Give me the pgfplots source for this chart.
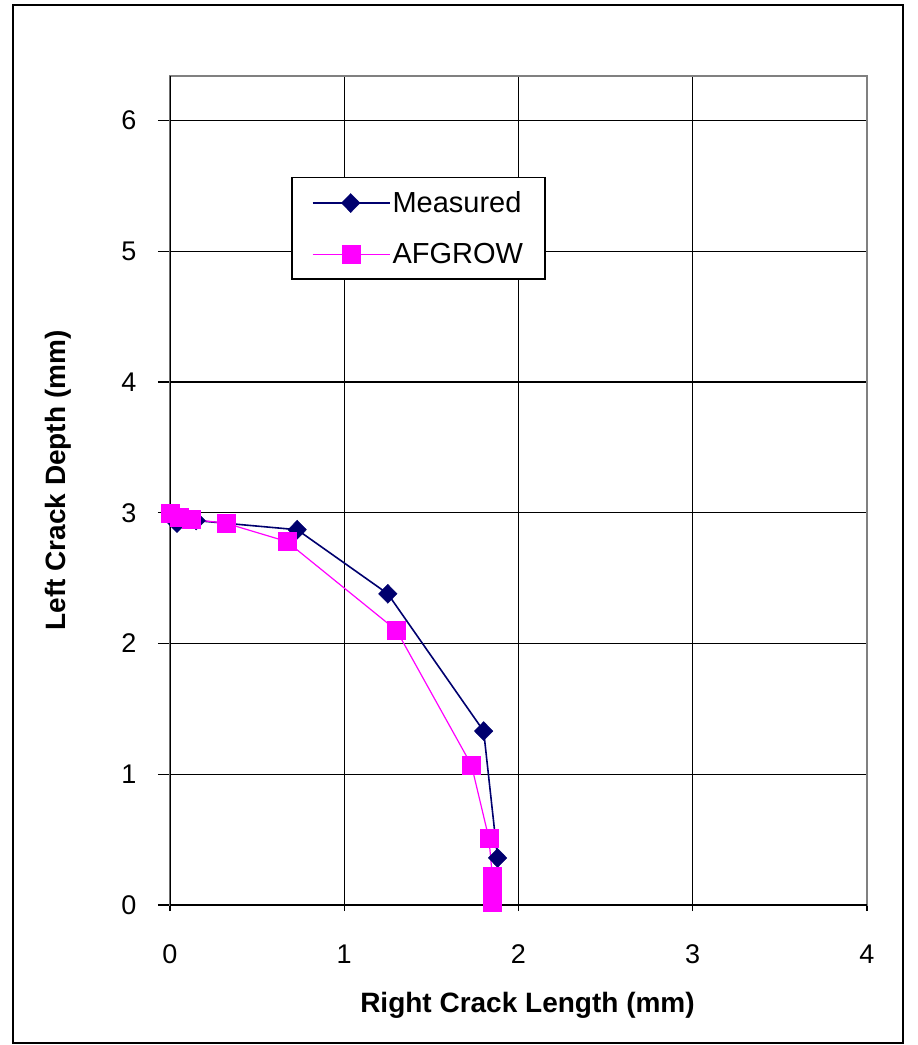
\documentclass[border=0pt]{standalone}
\usepackage{pgfplots}
\pgfplotsset{compat=1.18}
\usepackage{fontspec}
\setmainfont{Liberation Sans}
\definecolor{measured}{RGB}{0,0,110}
\definecolor{afgrow}{RGB}{255,0,255}
\definecolor{plotedge}{RGB}{128,128,128}

\begin{document}
\begin{tikzpicture}[x=1pt,y=1pt]
\path[use as bounding box] (0,0) rectangle (918,1045);
\draw[black, line width=1.3pt] (13,2) rectangle (903,1040);
\begin{axis}[
  at={(170pt,140pt)}, anchor=south west,
  width=697pt, height=829pt, scale only axis,
  xmin=0, xmax=4, ymin=0, ymax=6.34,
  xtick={0,1,2,3,4}, ytick={0,1,2,3,4,5,6},
  tick pos=left,
  grid=major,
  major grid style={black, line width=1.3pt},
  axis line style={plotedge, line width=1.3pt},
  major tick length=12pt,
  xtick align=center, ytick align=outside,
  tick style={black, line width=1.3pt},
  /pgf/number format/assume math mode=true,
  tick label style={font=\fontsize{27}{32}\selectfont},
  xticklabel style={yshift=-30pt},
  yticklabel style={xshift=-18pt},
  xlabel={\bfseries Right Crack Length (mm)},
  ylabel={\bfseries Left Crack Depth (mm)},
  label style={font=\fontsize{28}{33}\selectfont},
  xlabel style={yshift=-22pt, xshift=9pt},
  ylabel style={yshift=43pt, xshift=10pt},
  legend style={at={(rel axis cs:0.174,0.878)}, anchor=north west,
    draw=black, line width=1.3pt, fill=white,
    font=\fontsize{29}{33}\selectfont,
    inner xsep=20pt, inner ysep=12pt, row sep=25pt},
  legend cell align=left,
  legend image code/.code={%
    \draw[mark repeat=2, mark phase=2] plot coordinates {(0pt,0pt) (38pt,0pt) (77pt,0pt)};},
]
\draw[plotedge, line width=1.3pt] (rel axis cs:0,1) -- (rel axis cs:1,1) -- (rel axis cs:1,0);
\draw[black, line width=1.3pt] (rel axis cs:0,0) -- (rel axis cs:0,1);
\draw[black, line width=1.3pt] (rel axis cs:0,0) -- (rel axis cs:1,0);
\addplot[measured, line width=1.6pt, mark=diamond*, mark size=9.5pt,
  mark options={solid, fill=measured, line width=0.4pt, xscale=1.3}]
  coordinates {(0.04,2.92) (0.15,2.94) (0.73,2.87) (1.25,2.38) (1.80,1.33) (1.88,0.36)};
\addlegendentry{Measured}
\addplot[afgrow, line width=1.2pt, mark=square*, mark size=9pt,
  mark options={solid, fill=afgrow, line width=0.2pt}]
  coordinates {(0.00,3.00) (0.05,2.97) (0.12,2.95) (0.32,2.92) (0.67,2.78) (1.30,2.10)
    (1.73,1.07) (1.83,0.51) (1.85,0.22) (1.85,0.15) (1.85,0.08) (1.85,0.02)};
\addlegendentry{AFGROW}
\end{axis}
\end{tikzpicture}
\end{document}
